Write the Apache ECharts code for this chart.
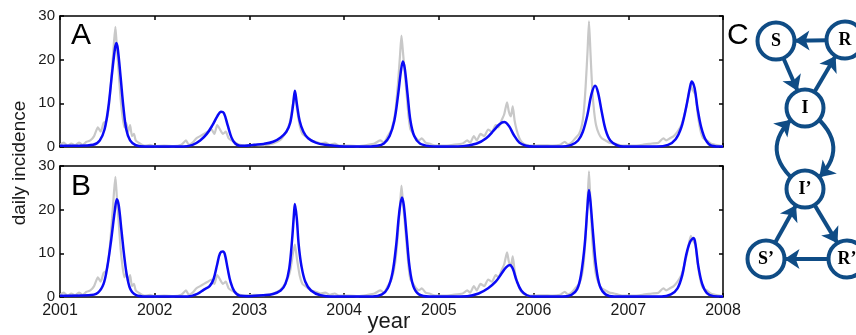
<!DOCTYPE html>
<html>
<head>
<meta charset="utf-8">
<script src="https://cdn.jsdelivr.net/npm/echarts@6/dist/echarts.min.js"></script>
<style>html,body{margin:0;padding:0;background:#fff}#c{width:856px;height:335px}</style>
</head>
<body>
<div id="c"></div>
<script>
// ---- data: observed daily incidence (gray), shared by panels A and B
var obsT = [2001.00,2001.04,2001.08,2001.12,2001.16,2001.20,2001.24,2001.28,2001.32,2001.36,2001.40,2001.43,2001.46,2001.49,2001.52,2001.55,2001.57,2001.585,2001.60,2001.62,2001.64,2001.66,2001.68,2001.70,2001.72,2001.74,2001.76,2001.78,2001.80,2001.83,2001.86,2001.90,2001.95,
2002.00,2002.10,2002.20,2002.28,2002.33,2002.36,2002.40,2002.44,2002.48,2002.52,2002.56,2002.60,2002.63,2002.66,2002.69,2002.72,2002.75,2002.78,2002.81,2002.85,2002.90,2002.95,
2003.05,2003.15,2003.25,2003.32,2003.36,2003.40,2003.43,2003.46,2003.48,2003.50,2003.53,2003.56,2003.59,2003.62,2003.65,2003.70,2003.75,2003.80,2003.85,2003.90,2003.95,
2004.05,2004.15,2004.25,2004.32,2004.38,2004.42,2004.46,2004.50,2004.54,2004.57,2004.59,2004.605,2004.62,2004.64,2004.66,2004.68,2004.70,2004.73,2004.76,2004.79,2004.82,2004.86,2004.90,2004.95,
2005.05,2005.15,2005.25,2005.30,2005.33,2005.37,2005.40,2005.44,2005.48,2005.52,2005.56,2005.60,2005.63,2005.66,2005.69,2005.72,2005.74,2005.76,2005.78,2005.80,2005.82,2005.85,2005.88,2005.92,
2006.00,2006.10,2006.20,2006.28,2006.33,2006.36,2006.40,2006.44,2006.48,2006.51,2006.53,2006.55,2006.57,2006.585,2006.60,2006.62,2006.64,2006.66,2006.69,2006.72,2006.76,2006.80,2006.85,2006.90,2006.95,
2007.05,2007.15,2007.25,2007.32,2007.37,2007.40,2007.44,2007.48,2007.52,2007.56,2007.60,2007.63,2007.66,2007.68,2007.71,2007.73,2007.76,2007.79,2007.83,2007.87,2007.92,2007.96,2008.00];
var obsV = [0.5,1.0,0.3,0.8,0.4,1.0,0.5,1.2,1.5,2.5,4.5,3.5,5.5,6,10,18,24,27.5,23,17,11,7,4.5,5.5,3.5,5,2.5,3,1.5,1,0.6,0.3,0.5,
0.2,0.3,0.2,0.5,1.5,0.5,1.0,2,2.5,3,3.5,4,3,5,4,3,3.5,2,1.5,1,0.5,0.3,
0.5,0.4,0.8,1.5,2.5,4,6,10,12,9,5,3,2.5,2,1.5,1.2,0.8,1.0,0.5,0.8,0.3,
0.3,0.2,0.5,0.8,1.5,1.0,2.5,4,8,15,21,25.5,22,17,12,7,4,3,2,1.5,2,1,0.8,0.4,
0.3,0.5,0.8,1.5,1.0,2.5,1.5,3,2.5,4,3.5,5,4.5,6,7.5,10.2,8,7,9.3,6,4,2,1,0.5,
0.3,0.4,0.3,0.5,1.2,0.6,1,2,3,5,8,14,22,28.8,22,13,8,5,3,2,1.5,1,0.8,0.5,0.3,
0.3,0.5,0.8,1,2,1.5,2,2.5,3.5,5,8,11,14,13,12,8,4,2,1.5,0.8,0.5,0.3,0.2];

// ---- model A (blue, top panel)
var modelAT = [2001.00,2001.20,2001.35,2001.42,2001.47,2001.51,2001.55,2001.58,2001.595,2001.61,2001.64,2001.67,2001.70,2001.74,2001.80,2001.90,
2002.00,2002.30,2002.40,2002.48,2002.55,2002.61,2002.66,2002.70,2002.73,2002.77,2002.81,2002.85,2002.90,2002.95,
2003.05,2003.15,2003.25,2003.33,2003.39,2003.43,2003.46,2003.48,2003.50,2003.53,2003.57,2003.62,2003.70,2003.80,2003.95,
2004.20,2004.35,2004.42,2004.48,2004.53,2004.57,2004.60,2004.62,2004.64,2004.67,2004.70,2004.74,2004.80,2004.90,
2005.00,2005.25,2005.40,2005.50,2005.58,2005.64,2005.69,2005.74,2005.79,2005.85,2005.92,
2006.00,2006.30,2006.40,2006.47,2006.52,2006.57,2006.61,2006.65,2006.68,2006.72,2006.76,2006.81,2006.88,2006.95,
2007.30,2007.42,2007.50,2007.56,2007.61,2007.65,2007.67,2007.70,2007.73,2007.77,2007.82,2007.88,2008.00];
var modelAV = [0.3,0.3,0.5,1.5,4,9,17,22.5,23.8,22.5,16,9,4,1.5,0.4,0.1,
0.1,0.1,0.5,1.5,3,5,7,8.1,7.8,5,2.2,0.8,0.3,0.3,
0.5,0.7,1.2,2.2,3.5,5.5,9.5,12.9,10,6,3.5,2,1,0.5,0.2,
0.1,0.3,0.8,2.5,6,12,17.5,19.6,18,12,6,2.5,0.8,0.2,
0.1,0.2,0.8,2,3.8,5.2,5.7,4.8,2.8,1,0.3,
0.1,0.1,0.5,1.5,3.5,7.5,12,14,12.5,8,4,1.5,0.4,0.1,
0.1,0.5,1.8,4.5,9,13.5,15,13.5,9,4.5,1.5,0.3,0.1];

// ---- model B (blue, bottom panel)
var modelBT = [2001.00,2001.30,2001.40,2001.46,2001.50,2001.54,2001.58,2001.60,2001.62,2001.65,2001.68,2001.71,2001.75,2001.82,2001.95,
2002.35,2002.45,2002.52,2002.58,2002.62,2002.66,2002.69,2002.72,2002.74,2002.77,2002.80,2002.84,2002.90,
2003.00,2003.15,2003.25,2003.33,2003.38,2003.42,2003.45,2003.47,2003.48,2003.50,2003.52,2003.55,2003.59,2003.65,2003.75,2003.90,
2004.30,2004.40,2004.46,2004.51,2004.55,2004.58,2004.61,2004.63,2004.66,2004.69,2004.73,2004.79,2004.90,
2005.30,2005.42,2005.52,2005.60,2005.66,2005.71,2005.75,2005.78,2005.82,2005.87,2005.93,
2006.00,2006.30,2006.40,2006.46,2006.50,2006.54,2006.57,2006.585,2006.60,2006.63,2006.66,2006.70,2006.76,2006.85,
2007.35,2007.45,2007.52,2007.57,2007.61,2007.65,2007.69,2007.71,2007.74,2007.78,2007.83,2007.90,2008.00];
var modelBV = [0.3,0.4,1,3,7,13,20,22.4,21,15,9,4.5,1.5,0.3,0.1,
0.1,0.7,1.7,2.5,4,7.5,10,10.4,9.8,6.5,3.5,1.3,0.3,
0.2,0.4,0.7,1.5,3,6.5,13,19,21.3,18,12,7,3.5,1.5,0.4,0.1,
0.1,0.6,2,5.5,12,19,22.8,21,14,7,2.5,0.6,0.1,
0.2,0.8,2,3.5,5.3,6.8,7.3,6.5,3.8,1.5,0.4,
0.1,0.1,0.5,1.8,5,12,21,24.5,22,14,7,2.5,0.6,0.1,
0.1,0.6,2,5,9.5,12.5,13.5,12,7,3,0.9,0.2,0.1];

var yearTicks = [2001, 2008];
var yTicks = [0, 30, 10];
var panelLabels = ['A', 'B'];

// ---- diagram C (compartment model)
var nodeNames = ['S', 'R', 'I', 'I\u2019', 'S\u2019', 'R\u2019'];
var nodeX = [776, 845, 805, 805, 766, 847];
var nodeY = [41, 40, 108, 189, 259, 259];
var links = [['R','S',0],['S','I',0],['I','R',0],['I','I\u2019',0.7],['I\u2019','I',0.7],['I\u2019','R\u2019',0],['R\u2019','S\u2019',0],['S\u2019','I\u2019',0]];

function pairs(t, v) { return t.map(function (x, i) { return [x, v[i]]; }); }

var dark = '#0f4c85';
var font = '"Liberation Sans", Arial, sans-serif';
var grids = [
  { left: 60, top: 16, width: 663, height: 131 },
  { left: 60, top: 166, width: 663, height: 131 }
];
var xAxes = [], yAxes = [];
[0, 1].forEach(function (g) {
  ['bottom', 'top'].forEach(function (pos) {
    xAxes.push({
      type: 'value', gridIndex: g, position: pos, min: yearTicks[0], max: yearTicks[1], interval: 1,
      axisLine: { show: true, onZero: false, lineStyle: { color: '#000', width: 1.5 } },
      axisTick: { show: true, inside: true, length: 4, lineStyle: { color: '#000', width: 1.5 } },
      splitLine: { show: false },
      axisLabel: { show: g === 1 && pos === 'bottom', fontSize: 16, color: '#1a1a1a', fontFamily: font, margin: 6, showMinLabel: true, showMaxLabel: true,
        formatter: function (v) { return String(Math.round(v)); } }
    });
  });
  ['left', 'right'].forEach(function (pos) {
    yAxes.push({
      type: 'value', gridIndex: g, position: pos, min: yTicks[0], max: yTicks[1], interval: yTicks[2],
      axisLine: { show: true, onZero: false, lineStyle: { color: '#000', width: 1.5 } },
      axisTick: { show: true, inside: true, length: 4, lineStyle: { color: '#000', width: 1.5 } },
      splitLine: { show: false },
      axisLabel: { show: pos === 'left', fontSize: 15, color: '#1a1a1a', fontFamily: font, margin: 5 }
    });
  });
});

var series = [];
[0, 1].forEach(function (g) {
  series.push({ type: 'line', xAxisIndex: g * 2, yAxisIndex: g * 2, data: pairs(obsT, obsV), showSymbol: false, symbol: 'none',
    lineStyle: { color: '#c8c8c8', width: 2.2 }, smooth: 0.2, silent: true, z: 2 });
  series.push({ type: 'line', xAxisIndex: g * 2, yAxisIndex: g * 2, data: g === 0 ? pairs(modelAT, modelAV) : pairs(modelBT, modelBV),
    showSymbol: false, symbol: 'none', lineStyle: { color: '#0a0af5', width: 2.5 }, smooth: 0.35, silent: true, z: 3 });
});

var minX = Math.min.apply(null, nodeX), maxX = Math.max.apply(null, nodeX);
var minY = Math.min.apply(null, nodeY), maxY = Math.max.apply(null, nodeY);
series.push({
  type: 'graph', layout: 'none', roam: false, silent: true,
  left: minX, top: minY, width: maxX - minX, height: maxY - minY,
  symbol: 'circle', symbolSize: 37,
  itemStyle: { color: '#fff', borderColor: dark, borderWidth: 4 },
  label: { show: true, position: 'inside', color: '#000', fontFamily: '"Liberation Serif", "DejaVu Serif", serif', fontWeight: 'bold', fontSize: 18 },
  edgeSymbol: ['none', 'arrow'], edgeSymbolSize: 15,
  lineStyle: { color: dark, width: 4, opacity: 1 },
  data: nodeNames.map(function (n, i) { return { name: n, x: nodeX[i], y: nodeY[i] }; }),
  links: links.map(function (l) { return { source: l[0], target: l[1], lineStyle: { curveness: l[2] } }; }),
  z: 5
});

var chart = echarts.init(document.getElementById('c'), null, { renderer: 'canvas' });
chart.setOption({
  animation: false,
  backgroundColor: '#fff',
  grid: grids,
  xAxis: xAxes,
  yAxis: yAxes,
  series: series,
  graphic: [
    { type: 'text', left: 71, top: 21, style: { text: panelLabels[0], fontSize: 30, fontFamily: font, fill: '#000' } },
    { type: 'text', left: 71, top: 172, style: { text: panelLabels[1], fontSize: 30, fontFamily: font, fill: '#000' } },
    { type: 'text', left: 727, top: 21, style: { text: 'C', fontSize: 30, fontFamily: font, fill: '#000' } },
    { type: 'text', x: 389, y: 322, style: { text: 'year', fontSize: 22, fontFamily: font, fill: '#1a1a1a', align: 'center', verticalAlign: 'middle' } },
    { type: 'text', x: 20, y: 163, rotation: Math.PI / 2, style: { text: 'daily incidence', fontSize: 19, fontFamily: font, fill: '#1a1a1a', align: 'center', verticalAlign: 'middle' } }
  ]
});
</script>
</body>
</html>
